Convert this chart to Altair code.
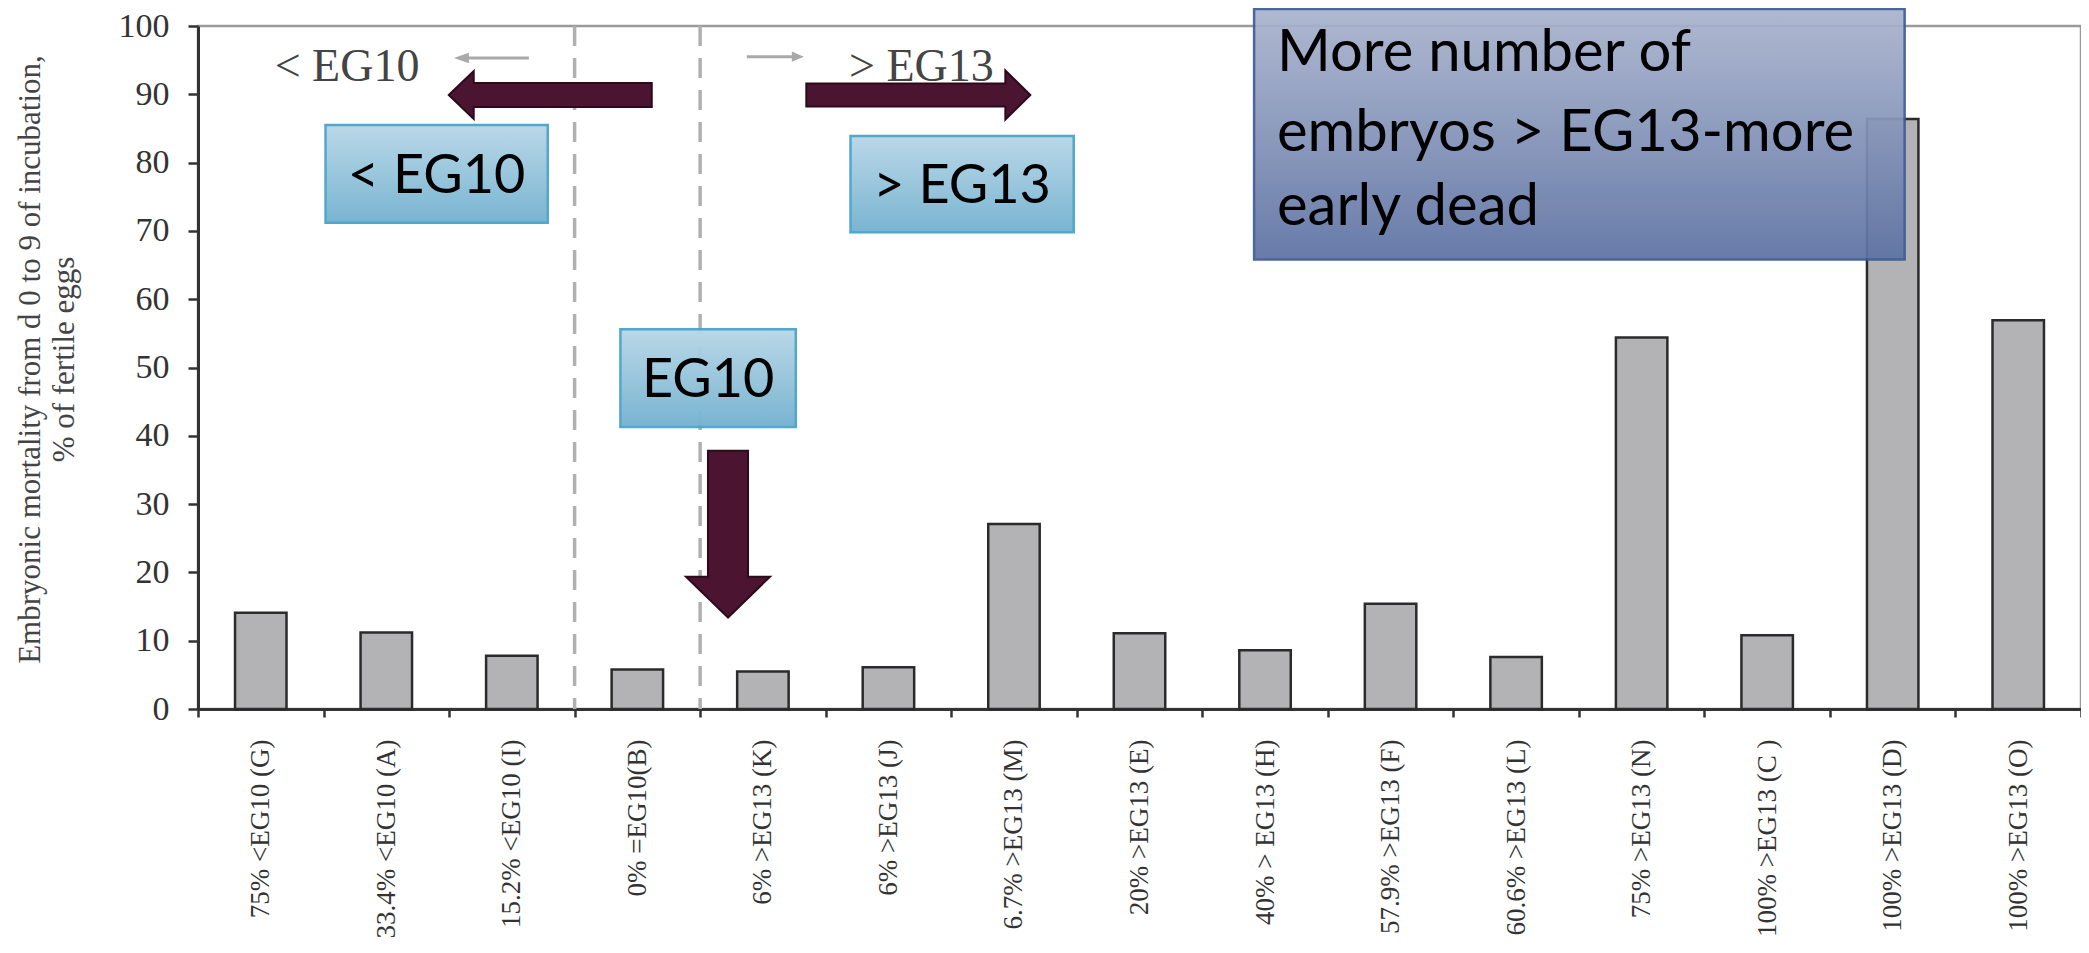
import altair as alt
import pandas as pd

# ---------------- data ----------------
categories = [
    "75% <EG10 (G)", "33.4% <EG10 (A)", "15.2% <EG10 (I)", "0% =EG10(B)",
    "6% >EG13 (K)", "6% >EG13 (J)", "6.7% >EG13 (M)", "20% >EG13 (E)",
    "40% > EG13 (H)", "57.9% >EG13 (F)", "60.6% >EG13 (L)", "75% >EG13 (N)",
    "100% >EG13 (C )", "100% >EG13 (D)", "100% >EG13 (O)",
]
mortality = [14.1, 11.2, 7.8, 5.8, 5.5, 6.1, 27.1, 11.1, 8.6, 15.4, 7.6, 54.4, 10.8, 86.4, 56.9]
divider_categories = ["0% =EG10(B)", "6% >EG13 (K)"]
y_ticks = [0, 10, 20, 30, 40, 50, 60, 70, 80, 90, 100]
y_title = ["Embryonic mortality from d 0 to 9 of incubation,", "% of fertile eggs"]

# annotation tables (x in category-band units 0..15, y in axis units)
box_text = ["< EG10", "> EG13", "EG10"]
box_left = [1.016, 5.198, 3.365]
box_right = [2.786, 6.976, 4.762]
box_bottom = [71.2, 69.8, 41.3]
box_top = [85.5, 83.9, 55.6]

note_lines = ["More number of", "embryos > EG13-more", "early dead"]
note_line_y = [95.9, 84.2, 73.4]
note_left, note_right, note_bottom, note_top = [8.413], [13.595], [65.8], [102.5]
note_text_x = 8.595

serif_text = ["< EG10", "> EG13"]
serif_x = [1.187, 5.762]
serif_y = [94.0, 94.0]

arrow_x = [2.806, 5.738, 4.222]
arrow_y = [89.9, 89.9, 25.6]
arrow_len = [203, 224, 167]
arrow_path = [
    "M-1,0 L-0.754,-0.236 L-0.754,-0.118 L1,-0.118 L1,0.118 L-0.754,0.118 L-0.754,0.236 Z",
    "M1,0 L0.777,-0.219 L0.777,-0.103 L-1,-0.103 L-1,0.103 L0.777,0.103 L0.777,0.219 Z",
    "M0,1 L-0.503,0.509 L-0.240,0.509 L-0.240,-1 L0.240,-1 L0.240,0.509 L0.503,0.509 Z",
]
small_arrow_x = [2.337, 4.599]
small_arrow_y = [95.3, 95.5]
small_arrow_len = [75, 57]
small_arrow_path = [
    "M-1,0 L-0.6,-0.14 L-0.6,-0.04 L1,-0.04 L1,0.04 L-0.6,0.04 L-0.6,0.14 Z",
    "M1,0 L0.58,-0.18 L0.58,-0.053 L-1,-0.053 L-1,0.053 L0.58,0.053 L0.58,0.18 Z",
]

# ---------------- chart ----------------
W, H = 1883, 683
SERIF = "Liberation Serif"
SANS = "Lato"

df = pd.DataFrame({"group": categories, "mortality": mortality})
xband = alt.Scale(domain=categories, paddingInner=0, paddingOuter=0)
yscale = alt.Scale(domain=[0, 100], nice=False, zero=True)
ux = alt.Scale(domain=[0, 15], nice=False, zero=False)
uy = alt.Scale(domain=[0, 100], nice=False, zero=False)

bars = alt.Chart(df).mark_bar(
    width={"band": 0.41}, fill="#b3b3b5", stroke="#2b2b2b", strokeWidth=2.5
).encode(
    x=alt.X("group:N", scale=xband, sort=categories, axis=alt.Axis(
        title=None, labelAngle=270, labelFont=SERIF, labelFontSize=27,
        labelColor="#333333", labelPadding=22, labelLimit=0, labelOverlap=False,
        tickBand="extent", tickSize=8, tickWidth=2.5, tickColor="#333333",
        domainColor="#333333", domainWidth=3,
    )),
    y=alt.Y("mortality:Q", scale=yscale, axis=alt.Axis(
        title=y_title, titleFont=SERIF, titleFontSize=31, titleFontWeight="normal",
        titleColor="#444444", titleLineHeight=34, titleAngle=270,
        titleAlign="center", titleBaseline="middle", titleX=-168, titleY=333,
        values=y_ticks, labelFont=SERIF, labelFontSize=34, labelColor="#333333",
        labelPadding=19, tickSize=10, tickWidth=2.5, tickColor="#333333",
        domainColor="#333333", domainWidth=3, grid=False,
    )),
)

rules = alt.Chart(pd.DataFrame({"group": divider_categories})).mark_rule(
    color="#b0b0b0", strokeWidth=3.5, strokeDash=[20, 12]
).encode(
    x=alt.X("group:N", scale=xband, sort=categories, bandPosition=0),
)

base = alt.layer(bars, rules)

boxes_df = pd.DataFrame({"t": box_text, "x0": box_left, "x1": box_right,
                         "y0": box_bottom, "y1": box_top})
blue_grad = alt.Gradient(
    gradient="linear",
    stops=[alt.GradientStop(color="#b8d7e7", offset=0),
           alt.GradientStop(color="#74b2d0", offset=1)],
    x1=0, x2=0, y1=0, y2=1,
)
boxes = alt.Chart(boxes_df).mark_rect(
    fill=blue_grad, stroke="#4ba4ca", strokeWidth=2.5, opacity=0.96
).encode(
    x=alt.X("x0:Q", scale=ux, axis=None), x2="x1:Q",
    y=alt.Y("y0:Q", scale=uy, axis=None), y2="y1:Q",
)
box_labels = alt.Chart(boxes_df).transform_calculate(
    xm="(datum.x0 + datum.x1) / 2", ym="(datum.y0 + datum.y1) / 2"
).mark_text(font=SANS, fontSize=54, color="#000000", align="center",
            baseline="middle", dy=3).encode(
    x=alt.X("xm:Q", scale=ux, axis=None),
    y=alt.Y("ym:Q", scale=uy, axis=None),
    text="t:N",
)

note_df = pd.DataFrame({"x0": note_left, "x1": note_right, "y0": note_bottom, "y1": note_top})
note_grad = alt.Gradient(
    gradient="linear",
    stops=[alt.GradientStop(color="#aab4ce", offset=0),
           alt.GradientStop(color="#5d72a3", offset=1)],
    x1=0, x2=0, y1=0, y2=1,
)
note_box = alt.Chart(note_df).mark_rect(
    fill=note_grad, stroke="#3d5b94", strokeWidth=2.5, opacity=0.93
).encode(
    x=alt.X("x0:Q", scale=ux, axis=None), x2="x1:Q",
    y=alt.Y("y0:Q", scale=uy, axis=None), y2="y1:Q",
)
note_text = alt.Chart(pd.DataFrame({"t": note_lines, "y": note_line_y,
                                    "x": [note_text_x] * len(note_lines)})).mark_text(
    font=SANS, fontSize=58, color="#000000", align="left", baseline="middle"
).encode(
    x=alt.X("x:Q", scale=ux, axis=None),
    y=alt.Y("y:Q", scale=uy, axis=None),
    text="t:N",
)

serif_labels = alt.Chart(pd.DataFrame({"t": serif_text, "x": serif_x, "y": serif_y})).mark_text(
    font=SERIF, fontSize=46, color="#444444", align="center", baseline="middle"
).encode(
    x=alt.X("x:Q", scale=ux, axis=None),
    y=alt.Y("y:Q", scale=uy, axis=None),
    text="t:N",
)

arrows_df = pd.DataFrame({"x": arrow_x, "y": arrow_y, "path": arrow_path,
                          "sz": [l * l for l in arrow_len]})
arrows = alt.Chart(arrows_df).mark_point(
    filled=True, fill="#4b1431", stroke="#2d0a1b", strokeWidth=2, opacity=1
).encode(
    x=alt.X("x:Q", scale=ux, axis=None),
    y=alt.Y("y:Q", scale=uy, axis=None),
    shape=alt.Shape("path:N", scale=None),
    size=alt.Size("sz:Q", scale=None),
)

small_df = pd.DataFrame({"x": small_arrow_x, "y": small_arrow_y, "path": small_arrow_path,
                         "sz": [l * l for l in small_arrow_len]})
small_arrows = alt.Chart(small_df).mark_point(
    filled=True, fill="#a9a9a9", strokeWidth=0, opacity=1
).encode(
    x=alt.X("x:Q", scale=ux, axis=None),
    y=alt.Y("y:Q", scale=uy, axis=None),
    shape=alt.Shape("path:N", scale=None),
    size=alt.Size("sz:Q", scale=None),
)

chart = alt.layer(
    base, serif_labels, small_arrows, boxes, box_labels, note_box, note_text, arrows
).resolve_scale(x="independent", y="independent").properties(
    width=W, height=H,
    padding={"left": 190, "top": 18, "right": 0, "bottom": 228},
    autosize=alt.AutoSizeParams(type="none"),
    background="#ffffff",
).configure_view(stroke="#9a9a9a", strokeWidth=2.5)

chart.save("out.html", embed_options={"renderer": "svg", "actions": False})
